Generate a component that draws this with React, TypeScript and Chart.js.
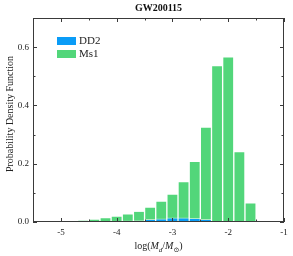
import React, { useEffect, useRef } from "react";
import { Chart, registerables } from "chart.js";

Chart.register(...registerables);

const binCenters = [-5.2, -5.0, -4.8, -4.6, -4.4, -4.2, -4.0, -3.8, -3.6, -3.4, -3.2, -3.0, -2.8, -2.6, -2.4, -2.2, -2.0, -1.8, -1.6];
const ms1Values = [0.002, 0.004, 0.005, 0.007, 0.010, 0.015, 0.020, 0.028, 0.037, 0.051, 0.072, 0.096, 0.139, 0.208, 0.326, 0.537, 0.567, 0.242, 0.066];
const dd2Values = [0, 0, 0, 0.001, 0.002, 0.002, 0.003, 0.004, 0.005, 0.009, 0.011, 0.014, 0.014, 0.013, 0.009, 0.002, 0, 0, 0];
const xTicks = [-5, -4, -3, -2, -1];
const yTicks = [0, 0.2, 0.4, 0.6];
const seriesNames = ["DD2", "Ms1"];
const seriesColors = ["#0a9cf7", "#52d67a"];
const titleText = "GW200115";
const yTitle = "Probability Density Function";

const SERIF = "'Liberation Serif', 'DejaVu Serif', serif";

const framePlugin = {
  id: "frame",
  afterDraw(chart: any) {
    const ctx = chart.ctx;
    const { left, right, top, bottom } = chart.chartArea;
    const xs = chart.scales.x;
    const ys = chart.scales.y;
    ctx.save();
    ctx.strokeStyle = "#3a3a3a";
    ctx.lineWidth = 1;
    ctx.strokeRect(left + 0.5, top + 0.5, right - left - 1, bottom - top - 1);
    // ticks
    ctx.beginPath();
    for (let v = -5.5; v <= -1; v += 0.5) {
      const x = Math.round(xs.getPixelForValue(v)) + 0.5;
      const major = Math.abs(v - Math.round(v)) < 1e-6;
      const len = major ? 4 : 2.5;
      ctx.moveTo(x, bottom);
      ctx.lineTo(x, bottom - len);
      ctx.moveTo(x, top);
      ctx.lineTo(x, top + len);
    }
    for (let i = 0; i <= 7; i++) {
      const v = i * 0.1;
      const y = Math.round(ys.getPixelForValue(v)) + 0.5;
      const len = i % 2 === 0 ? 4 : 2.5;
      ctx.moveTo(left, y);
      ctx.lineTo(left + len, y);
      ctx.moveTo(right, y);
      ctx.lineTo(right - len, y);
    }
    ctx.stroke();

    // legend
    const lx = 57, ly = 37;
    ctx.font = `11px ${SERIF}`;
    ctx.textBaseline = "middle";
    ctx.textAlign = "left";
    seriesNames.forEach((n, i) => {
      const y = ly + i * 13;
      ctx.fillStyle = seriesColors[i];
      ctx.fillRect(lx, y, 19, 8);
      ctx.fillStyle = "#222";
      ctx.fillText(n, lx + 22, y + 4.5);
    });

    // title
    const cx = (left + right) / 2;
    ctx.font = `bold 10px ${SERIF}`;
    ctx.textAlign = "center";
    ctx.fillStyle = "#111";
    ctx.fillText(titleText, cx, 8);

    // x title: log(M_d/M_⊙)
    const parts: [string, string][] = [
      ["log(", "n"], ["M", "i"], ["d", "si"], ["/", "n"], ["M", "i"], ["⊙", "s"], [")", "n"],
    ];
    const fontFor = (k: string) =>
      k === "n" ? `10px ${SERIF}` : k === "i" ? `italic 10px ${SERIF}` : k === "si" ? `italic 7px ${SERIF}` : `7px ${SERIF}`;
    let total = 0;
    parts.forEach(([t, k]) => {
      ctx.font = fontFor(k);
      total += ctx.measureText(t).width;
    });
    let px = cx - total / 2;
    const by = 249;
    ctx.textAlign = "left";
    ctx.textBaseline = "alphabetic";
    ctx.fillStyle = "#222";
    parts.forEach(([t, k]) => {
      ctx.font = fontFor(k);
      const sub = k === "si" || k === "s";
      ctx.fillText(t, px, sub ? by + 2.5 : by);
      px += ctx.measureText(t).width;
    });

    // y title
    ctx.save();
    ctx.translate(10, (top + bottom) / 2 - 6);
    ctx.rotate(-Math.PI / 2);
    ctx.font = `10px ${SERIF}`;
    ctx.textAlign = "center";
    ctx.textBaseline = "middle";
    ctx.fillText(yTitle, 0, 0);
    ctx.restore();
    ctx.restore();
  },
};

export default function App() {
  const ref = useRef<HTMLCanvasElement>(null);
  useEffect(() => {
    if (!ref.current) return;
    const chart = new Chart(ref.current, {
      type: "bar",
      data: {
        datasets: [
          {
            label: seriesNames[0],
            data: binCenters.map((x, i) => ({ x, y: dd2Values[i] })),
            backgroundColor: seriesColors[0],
            borderColor: "rgba(255,255,255,0.55)",
            borderWidth: 1,
            grouped: false,
            barPercentage: 1,
            categoryPercentage: 1,
          },
          {
            label: seriesNames[1],
            data: binCenters.map((x, i) => ({ x, y: ms1Values[i] })),
            backgroundColor: seriesColors[1],
            borderColor: "rgba(255,255,255,0.55)",
            borderWidth: 1,
            grouped: false,
            barPercentage: 1,
            categoryPercentage: 1,
          },
        ] as any,
      },
      options: {
        animation: false,
        responsive: false,
        maintainAspectRatio: false,
        layout: { padding: { left: 0, top: 18, right: 9, bottom: 0 } },
        plugins: { legend: { display: false }, tooltip: { enabled: false }, title: { display: false } },
        scales: {
          x: {
            type: "linear",
            offset: false,
            min: -5.5,
            max: -1,
            afterFit: (s: any) => { s.height = 34; },
            afterBuildTicks: (s: any) => { s.ticks = xTicks.map((v) => ({ value: v })); },
            grid: { display: false, drawTicks: false, tickLength: 0 },
            border: { display: false },
            ticks: { font: { family: SERIF, size: 9 }, color: "#222", padding: 5, maxRotation: 0 },
          },
          y: {
            min: 0,
            max: 0.7,
            afterFit: (s: any) => { s.width = 33; },
            afterBuildTicks: (s: any) => { s.ticks = yTicks.map((v) => ({ value: v })); },
            grid: { display: false, drawTicks: false, tickLength: 0 },
            border: { display: false },
            ticks: { font: { family: SERIF, size: 9 }, color: "#222", padding: 4, callback: (v: any) => Number(v).toFixed(1) },
          },
        },
      } as any,
      plugins: [framePlugin],
    });
    return () => chart.destroy();
  }, []);
  return (
    <div style={{ position: "fixed", left: 0, top: 0, width: 293, height: 256, background: "#fff" }}>
      <canvas ref={ref} width={293} height={256} style={{ width: 293, height: 256 }} />
    </div>
  );
}
